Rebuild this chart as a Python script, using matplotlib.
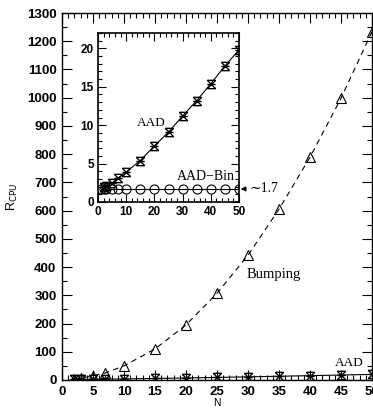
import numpy as np
import matplotlib
matplotlib.use("Agg")
import matplotlib.pyplot as plt
from matplotlib.path import Path
from matplotlib.ticker import MultipleLocator

# ---- data ----
N_aad = [2, 3, 5, 7, 10, 15, 20, 25, 30, 35, 40, 45, 50]
aad = [1.9, 2.1, 2.5, 3.1, 3.9, 5.4, 7.3, 9.1, 11.2, 13.2, 15.4, 17.7, 19.8]
N_bin = [1, 2, 3, 5, 7, 10, 15, 20, 25, 30, 35, 40, 45, 50]
aad_bin = [1.7, 1.7, 1.7, 1.7, 1.7, 1.7, 1.7, 1.7, 1.7, 1.7, 1.7, 1.7, 1.7, 1.7]
N_bump = [2, 3, 5, 7, 10, 15, 20, 25, 30, 35, 40, 45, 50]
bump = [3, 6, 15, 25, 50, 110, 195, 307, 442, 605, 789, 998, 1234]

# custom "crossed star" marker
verts = [(-1, 1), (1, -1), (-1, -1), (1, 1), (-1, 1), (1, 1),
         (-1, -1), (1, -1), (-1, 0), (1, 0)]
codes = [Path.MOVETO, Path.LINETO, Path.MOVETO, Path.LINETO, Path.MOVETO, Path.LINETO,
         Path.MOVETO, Path.LINETO, Path.MOVETO, Path.LINETO]
star = Path(verts, codes)

serif = "Liberation Serif"
sans = "Liberation Sans"

fig = plt.figure(figsize=(3.73, 4.08), dpi=100)
ax = fig.add_axes([62/373, 1-380/408, 310/373, 367/408])

ax.plot(N_bump, bump, ls=(0, (5, 4)), color="black", lw=0.8,
        marker="^", ms=7, mfc="none", mec="black", mew=0.8)
ax.plot(N_aad, aad, ls="-", color="black", lw=0.8,
        marker=star, ms=6, mfc="none", mec="black", mew=1.0)
ax.plot(N_bin, aad_bin, ls="-", color="black", lw=0.8)

ax.set_xlim(0, 50)
ax.set_ylim(0, 1300)
ax.xaxis.set_major_locator(MultipleLocator(5))
ax.xaxis.set_minor_locator(MultipleLocator(1))
ax.yaxis.set_major_locator(MultipleLocator(100))
ax.yaxis.set_minor_locator(MultipleLocator(50))
ax.tick_params(which="both", direction="in", top=True, right=True, width=0.8)
ax.tick_params(which="major", length=7, labelsize=9.5, pad=4)
ax.tick_params(which="minor", length=3.5)
for lab in ax.get_xticklabels() + ax.get_yticklabels():
    lab.set_fontfamily(sans)
    lab.set_fontweight("bold")
ax.set_xlabel("N", fontsize=7.5, fontfamily=sans, labelpad=0)
ax.set_ylabel(r"R$_{\rm CPU}$", fontsize=9, fontfamily=sans, labelpad=5)
ax.text(29.7, 360, "Bumping", fontsize=10.5, fontfamily=serif)
ax.text(48.7, 50, "AAD", fontsize=9.5, fontfamily=serif, ha="right")
for s in ax.spines.values():
    s.set_linewidth(1.0)

# inset
ins = fig.add_axes([98/373, 1-202/408, 141/373, 169/408])
ins.plot(N_aad, aad, ls="-", color="black", lw=0.8,
         marker=star, ms=6, mfc="none", mec="black", mew=1.0)
ins.plot(N_bin, aad_bin, ls="-", color="black", lw=0.8,
         marker="o", ms=6.5, mfc="none", mec="black", mew=0.8)
ins.set_xlim(0, 50)
ins.set_ylim(0, 22)
ins.xaxis.set_major_locator(MultipleLocator(10))
ins.xaxis.set_minor_locator(MultipleLocator(2))
ins.yaxis.set_major_locator(MultipleLocator(5))
ins.yaxis.set_minor_locator(MultipleLocator(1))
ins.tick_params(which="both", direction="in", top=True, right=True, width=0.8)
ins.tick_params(which="major", length=6, labelsize=8.5, pad=3)
ins.tick_params(which="minor", length=3)
for lab in ins.get_xticklabels() + ins.get_yticklabels():
    lab.set_fontfamily(sans)
    lab.set_fontweight("bold")
ins.text(19, 9.9, "AAD", fontsize=9.5, fontfamily=serif, ha="center")
ins.text(38.3, 2.8, "AAD\u2212Bin", fontsize=10, fontfamily=serif, ha="center")
ins.annotate("\u223c1.7", xy=(50.6, 1.7), xytext=(53.6, 1.7), textcoords="data",
             fontsize=10, fontfamily=[serif, "DejaVu Serif"], va="center",
             annotation_clip=False,
             arrowprops=dict(arrowstyle="-|>", lw=0.8, color="black",
                             mutation_scale=7, shrinkA=0, shrinkB=0))
for s in ins.spines.values():
    s.set_linewidth(1.2)

fig.savefig("out.png", dpi=100)
